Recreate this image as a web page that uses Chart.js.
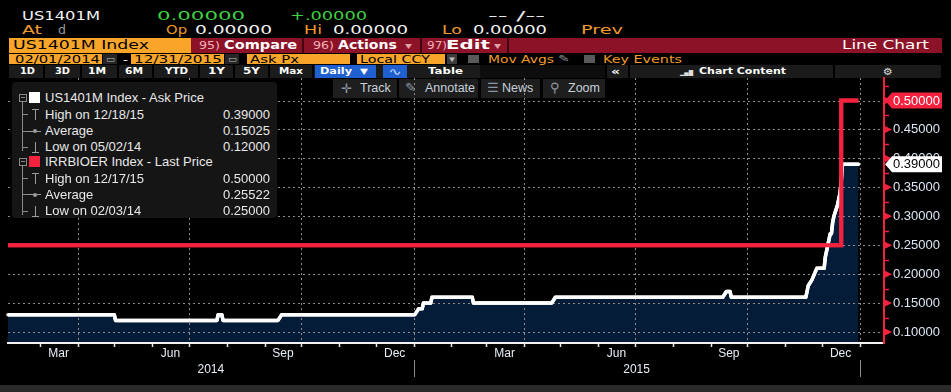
<!DOCTYPE html>
<html>
<head>
<meta charset="utf-8">
<script src="https://cdn.jsdelivr.net/npm/chart.js@4.4.1/dist/chart.umd.min.js"></script>
<style>
html, body { margin: 0; padding: 0; background: #000; width: 951px; height: 392px; overflow: hidden; }
body { position: relative; font-family: 'Liberation Sans', Arial, sans-serif; }
#chartWrap { position: absolute; left: 0; top: 0; width: 951px; height: 385px; z-index: 1; }
.t { position: absolute; white-space: nowrap; line-height: 1; transform-origin: 0 50%; font-family: 'DejaVu Sans', sans-serif; }
.b { position: absolute; }
.btn { position: absolute; top: 79px; height: 19px; background: #1e1e1e; z-index: 0; color: #c6d0dc; font-size: 12.5px; line-height: 19px; }
.btn span { position: absolute; }
#legendBox { position: absolute; left: 12px; top: 82px; width: 265px; height: 136px; background: #151515; border-radius: 4px; z-index: 2; }
.lg { position: absolute; z-index: 3; color: #e8e8e8; font-size: 13px; line-height: 1; white-space: nowrap; }
.lv { position: absolute; z-index: 3; color: #e8e8e8; font-size: 13px; line-height: 1; right: 681px; }
.tr { position: absolute; z-index: 3; background: #8a8a8a; }
#footer { position: absolute; left: 0; top: 385px; width: 951px; height: 7px; background: #2a2a2a; }
</style>
</head>
<body>
<div id="header"></div>

<div class="btn" style="left:333px;width:64px;"><span style="left:8px;color:#8a96a4;font-size:13px;">✛</span><span style="left:27px;">Track</span></div>
<div class="btn" style="left:399px;width:79px;"><span style="left:6px;color:#8a96a4;">✎</span><span style="left:26px;">Annotate</span></div>
<div class="btn" style="left:481px;width:59px;"><span style="left:6px;color:#8a96a4;">☰</span><span style="left:21px;">News</span></div>
<div class="btn" style="left:543px;width:62px;"><span style="left:7px;color:#8a96a4;">⚲</span><span style="left:25px;">Zoom</span></div>

<div id="chartWrap"><canvas id="myChart" width="951" height="385"></canvas></div>

<div id="legendBox"></div>
<div id="legend"></div>
<div id="footer"></div>

<script>
// --- data ---
const askDates = ['2014-02-03', '2014-05-01', '2014-05-02', '2014-07-24', '2014-07-25', '2014-07-28', '2014-07-29',
    '2014-09-12', '2014-09-15', '2015-01-02', '2015-01-05', '2015-01-08', '2015-01-09', '2015-01-15', '2015-01-16',
    '2015-02-18', '2015-02-19', '2015-04-24', '2015-04-27', '2015-09-11', '2015-09-14', '2015-09-17', '2015-09-18',
    '2015-11-18', '2015-11-19', '2015-11-20', '2015-11-23', '2015-11-25', '2015-11-27', '2015-12-03', '2015-12-04',
    '2015-12-07', '2015-12-08', '2015-12-09', '2015-12-10', '2015-12-11', '2015-12-14', '2015-12-15', '2015-12-16',
    '2015-12-17', '2015-12-18', '2015-12-31'];
const askValues = [0.13, 0.13, 0.12, 0.12, 0.13, 0.13, 0.12,
    0.12, 0.13, 0.13, 0.14, 0.14, 0.15, 0.15, 0.16,
    0.16, 0.15, 0.15, 0.16, 0.16, 0.17, 0.17, 0.16,
    0.16, 0.17, 0.18, 0.19, 0.20, 0.21, 0.21, 0.23,
    0.26, 0.27, 0.27, 0.29, 0.30, 0.32, 0.33, 0.34,
    0.36, 0.39, 0.39];

const rateDates = ['2014-02-03', '2015-12-17', '2015-12-31'];
const rateValues = [0.25, 0.50, 0.50];

const monthStarts = ['2014-03-01', '2014-04-01', '2014-05-01', '2014-06-01', '2014-07-01', '2014-08-01',
    '2014-09-01', '2014-10-01', '2014-11-01', '2014-12-01', '2015-01-01', '2015-02-01', '2015-03-01',
    '2015-04-01', '2015-05-01', '2015-06-01', '2015-07-01', '2015-08-01', '2015-09-01', '2015-10-01',
    '2015-11-01', '2015-12-01', '2016-01-01'];
const monthLabelMonths = ['2014-03', '2014-06', '2014-09', '2014-12', '2015-03', '2015-06', '2015-09', '2015-12'];
const monthLabels = ['Mar', 'Jun', 'Sep', 'Dec', 'Mar', 'Jun', 'Sep', 'Dec'];
const yearLabels = ['2014', '2015'];
const yearSpans = [['2014-02-03', '2015-01-01'], ['2015-01-01', '2016-01-01']];
const yearBreaks = ['2015-01-01', '2016-01-01'];

const yMajorTicks = [0.10, 0.15, 0.20, 0.25, 0.30, 0.35, 0.40, 0.45, 0.50];
const yMinorTicks = [0.125, 0.175, 0.225, 0.275, 0.325, 0.375, 0.425, 0.475, 0.525];

const xStart = '2014-02-03';
const xEnd = '2016-01-21';
const yMin = 0.081;
const yMax = 0.539;

const RED = '#f5223f';
const GRID = '#8c8c8c';

// --- helpers ---
const BASE = Date.UTC(2014, 1, 1);
function dayNum(s) {
    const p = s.split('-');
    return Math.round((Date.UTC(+p[0], +p[1] - 1, +(p[2] || 1)) - BASE) / 864e5);
}
function nextMonth(ym) {
    let [y, m] = ym.split('-').map(Number);
    m++; if (m > 12) { m = 1; y++; }
    return y + '-' + String(m).padStart(2, '0');
}
const quarterDays = monthStarts.filter(d => ['01', '04', '07', '10'].includes(d.slice(5, 7))).map(dayNum);
const monthLabelValues = monthLabelMonths.map(m => (dayNum(m + '-01') + dayNum(nextMonth(m) + '-01')) / 2);
const yearLabelValues = yearSpans.map(s => (dayNum(s[0]) + dayNum(s[1])) / 2);
const isMajorY = v => yMajorTicks.some(m => Math.abs(m - v) < 1e-6);
const isQuarter = v => quarterDays.some(q => Math.abs(q - v) < 1e-6);

// --- header (bloomberg bars) ---
const header = document.getElementById('header');
const headerBoxes = [
    [9, 38, 182, 15, '#f9a52a'], [191, 38, 751, 15, '#8c1327'],
    [302, 38, 2, 15, '#3e060e'], [420, 38, 2, 15, '#3e060e'], [507, 38, 2, 15, '#3e060e'],
    [9, 54, 93, 10, '#f9a52a'], [103, 54, 14, 10, '#262626'], [131, 54, 93, 10, '#f9a52a'], [225, 54, 14, 10, '#262626'],
    [247, 54, 103, 10, '#f9a52a'], [357, 54, 88, 10, '#f9a52a'], [447, 54, 10, 10, '#3c3c3c'],
    [468, 55, 11, 8, '#5a5a5a'], [584, 55, 11, 8, '#5a5a5a'],
    [9, 65, 932, 13, '#1b1b1b'],
    [43, 65, 2, 13, '#000'], [80, 65, 2, 13, '#000'], [117, 65, 2, 13, '#000'], [152, 65, 2, 13, '#000'],
    [198, 65, 2, 13, '#000'], [233, 65, 2, 13, '#000'], [268, 65, 2, 13, '#000'], [312, 65, 2, 13, '#000'],
    [315, 65, 61, 13, '#1f5fcf'], [383, 65, 24, 13, '#1f5fcf'],
    [480, 65, 125, 13, '#0d0d0d'], [605, 65, 2, 13, '#000'], [628, 65, 2, 13, '#000'], [833, 65, 2, 13, '#000']
];
headerBoxes.forEach(([x, y, w, h, c]) => {
    const d = document.createElement('div');
    d.className = 'b';
    d.style.cssText = `left:${x}px;top:${y}px;width:${w}px;height:${h}px;background:${c};`;
    header.appendChild(d);
});
// x, centre y, width, text, colour, size, bold
const headerTexts = [
    [22, 16, 78, 'US1401M', '#f2f2f2', 12, 0], [157, 16, 88, '0.00000', '#3fd23f', 12, 0],
    [290, 16, 77, '+.00000', '#3fd23f', 12, 0], [488, 16, 57, '-- /--', '#e8e8e8', 12, 0],
    [22, 30, 20, 'At', '#f09a2b', 12, 0], [58, 30, 8, 'd', '#9a9a9a', 12, 0],
    [166, 30, 21, 'Op', '#f09a2b', 12, 0], [195, 30, 77, '0.00000', '#f2f2f2', 12, 0],
    [304, 30, 18, 'Hi', '#f09a2b', 12, 0], [333, 30, 75, '0.00000', '#f2f2f2', 12, 0],
    [442, 30, 20, 'Lo', '#f09a2b', 12, 0], [473, 30, 74, '0.00000', '#f2f2f2', 12, 0],
    [581, 30, 42, 'Prev', '#f09a2b', 12, 0],
    [13, 45.5, 136, 'US1401M Index', '#000', 11.5, 0],
    [199, 45.5, 21, '95)', '#f3b0b8', 11, 0], [224, 45.5, 73, 'Compare', '#fff', 11.5, 1],
    [313, 45.5, 21, '96)', '#f3b0b8', 11, 0], [338, 45.5, 59, 'Actions', '#fff', 11.5, 1], [405, 45.5, 7, '▾', '#e0a0a8', 10, 0],
    [427, 45.5, 20, '97)', '#f3b0b8', 11, 0], [446, 45.5, 44, 'Edit', '#fff', 11.5, 1], [494, 45.5, 7, '▾', '#e0a0a8', 10, 0],
    [842, 45.5, 87, 'Line Chart', '#fff', 11.5, 0],
    [15, 59, 85, '02/01/2014', '#000', 10.5, 0], [106, 59, 9, '▭', '#bbb', 9, 0], [123, 59, 5, '-', '#fff', 10.5, 0],
    [134, 59, 88, '12/31/2015', '#000', 10.5, 0], [228, 59, 9, '▭', '#bbb', 9, 0],
    [250, 59, 49, 'Ask Px', '#000', 10.5, 0], [360, 59, 70, 'Local CCY', '#000', 10.5, 0], [449, 59, 6, '▾', '#bbb', 9, 0],
    [488, 59, 66, 'Mov Avgs', '#f09a2b', 10.5, 0], [558, 59, 12, '✎', '#888', 10, 0],
    [603, 59, 79, 'Key Events', '#f09a2b', 10.5, 0],
    [20, 71.5, 15, '1D', '#fff', 9, 1], [55, 71.5, 15, '3D', '#fff', 9, 1], [88, 71.5, 18, '1M', '#fff', 9, 1],
    [125, 71.5, 18, '6M', '#fff', 9, 1], [165, 71.5, 23, 'YTD', '#fff', 9, 1], [208, 71.5, 17, '1Y', '#fff', 9, 1],
    [243, 71.5, 17, '5Y', '#fff', 9, 1], [279, 71.5, 24, 'Max', '#fff', 9, 1],
    [320, 71.5, 32, 'Daily', '#fff', 9, 1], [360, 71.5, 8, '▼', '#fff', 8, 0], [388, 71.5, 14, '∿', '#bcd4ff', 10, 0],
    [428, 71.5, 35, 'Table', '#fff', 9, 1], [611, 71.5, 9, '«', '#fff', 10, 1],
    [680, 71.5, 13, '▁▃▅', '#ddd', 8, 0], [699, 71.5, 87, 'Chart Content', '#fff', 9, 1], [883, 71.5, 10, '⚙', '#ddd', 10, 0]
];
const scaled = [];
headerTexts.forEach(([x, cy, w, txt, c, s, b]) => {
    const d = document.createElement('div');
    d.className = 't';
    d.textContent = txt;
    d.style.cssText = `left:${x}px;top:${cy - s / 2}px;font-size:${s}px;color:${c};font-weight:${b ? 'bold' : 'normal'};`;
    header.appendChild(d);
    scaled.push([d, w]);
});
scaled.forEach(([d, w]) => {
    const real = d.getBoundingClientRect().width;
    if (real > 0) d.style.transform = `scaleX(${w / real})`;
});

// --- legend panel ---
const legend = document.getElementById('legend');
const legendRows = [
    { y: 97.5, text: 'US1401M Index - Ask Price', swatch: '#ffffff' },
    { y: 114, text: 'High on 12/18/15', value: '0.39000', icon: 'high' },
    { y: 130.5, text: 'Average', value: '0.15025', icon: 'avg' },
    { y: 146.5, text: 'Low on 05/02/14', value: '0.12000', icon: 'low' },
    { y: 161.5, text: 'IRRBIOER Index - Last Price', swatch: RED },
    { y: 178, text: 'High on 12/17/15', value: '0.50000', icon: 'high' },
    { y: 194, text: 'Average', value: '0.25522', icon: 'avg' },
    { y: 210.5, text: 'Low on 02/03/14', value: '0.25000', icon: 'low' }
];
function addDiv(cls, css, txt) {
    const d = document.createElement('div');
    d.className = cls;
    d.style.cssText = css;
    if (txt) d.textContent = txt;
    legend.appendChild(d);
    return d;
}
legendRows.forEach(r => {
    addDiv('lg', `left:45px;top:${r.y - 6.5}px;`, r.text);
    if (r.value) addDiv('lv', `top:${r.y - 6.5}px;`, r.value);
    if (r.swatch) {
        addDiv('tr', `left:29px;top:${r.y - 5.5}px;width:11px;height:11px;background:${r.swatch};`);
        addDiv('tr', `left:19px;top:${r.y - 4}px;width:6px;height:6px;background:none;border:1px solid #8a8a8a;`);
        addDiv('tr', `left:21px;top:${r.y - 0.5}px;width:4px;height:1px;`);
        addDiv('tr', `left:22px;top:${r.y + 4}px;width:1px;height:49px;`);
    } else {
        addDiv('tr', `left:22px;top:${r.y}px;width:6px;height:1px;`);
        if (r.icon === 'high') {
            addDiv('tr', `left:32px;top:${r.y - 5}px;width:7px;height:1px;background:#9a9a9a;`);
            addDiv('tr', `left:35px;top:${r.y - 5}px;width:1px;height:11px;background:#9a9a9a;`);
        } else if (r.icon === 'low') {
            addDiv('tr', `left:32px;top:${r.y + 5}px;width:7px;height:1px;background:#9a9a9a;`);
            addDiv('tr', `left:35px;top:${r.y - 5}px;width:1px;height:11px;background:#9a9a9a;`);
        } else {
            addDiv('tr', `left:28px;top:${r.y}px;width:13px;height:1px;background:#9a9a9a;`);
            addDiv('tr', `left:33px;top:${r.y - 1.5}px;width:4px;height:4px;border-radius:2px;background:#9a9a9a;`);
        }
    }
});

// --- chart ---
function strokeLine(ctx, x1, y1, x2, y2) {
    ctx.beginPath();
    ctx.moveTo(x1, y1);
    ctx.lineTo(x2, y2);
    ctx.stroke();
}

function valueTag(ctx, scale, v, bg, fg) {
    const py = scale.getPixelForValue(v);
    const x0 = scale.left + 1;
    ctx.fillStyle = bg;
    ctx.beginPath();
    ctx.moveTo(x0, py);
    ctx.lineTo(x0 + 7, py - 8);
    ctx.lineTo(x0 + 57, py - 8);
    ctx.lineTo(x0 + 57, py + 8);
    ctx.lineTo(x0 + 7, py + 8);
    ctx.closePath();
    ctx.fill();
    ctx.fillStyle = fg;
    ctx.font = "13px 'Liberation Sans', Arial, sans-serif";
    ctx.textAlign = 'left';
    ctx.textBaseline = 'middle';
    ctx.fillText(v.toFixed(5), scale.left + 9, py + 0.5);
}

// dashed grid + tick marks from the scales' own ticks, laid over the area fill,
// then the two series lines are stroked again on top of the grid
const gridLayer = {
    id: 'gridLayer',
    afterDatasetsDraw(chart) {
        const { ctx, chartArea: a } = chart;
        const { x, y } = chart.scales;
        ctx.save();
        ctx.lineWidth = 1;
        ctx.strokeStyle = GRID;
        ctx.setLineDash([2, 3]);
        x.ticks.forEach(t => {
            if (!isQuarter(t.value)) return;
            const px = Math.round(x.getPixelForValue(t.value)) + 0.5;
            strokeLine(ctx, px, a.top, px, a.bottom);
        });
        y.ticks.forEach(t => {
            if (!isMajorY(t.value)) return;
            const py = Math.round(y.getPixelForValue(t.value)) + 0.5;
            strokeLine(ctx, a.left, py, a.right, py);
        });
        ctx.setLineDash([]);
        ctx.lineWidth = 1.5;
        ctx.strokeStyle = '#e6e6e6';
        x.ticks.forEach(t => {
            const px = Math.round(x.getPixelForValue(t.value)) + 0.5;
            strokeLine(ctx, px, a.bottom, px, a.bottom + 4);
        });
        ctx.strokeStyle = RED;
        y.ticks.forEach(t => {
            if (isMajorY(t.value)) return;
            const py = Math.round(y.getPixelForValue(t.value)) + 0.5;
            strokeLine(ctx, a.right, py, a.right + 5, py);
        });
        ctx.restore();

        ctx.save();
        ctx.beginPath();
        ctx.rect(a.left - 2, a.top - 2, a.right - a.left + 4, a.bottom - a.top + 4);
        ctx.clip();
        [1, 0].forEach(i => {
            const el = chart.getDatasetMeta(i).dataset;
            if (el) el.draw(ctx, a);
        });
        ctx.restore();
    }
};

// month / year captions under the time axis, arrow markers and last-value tags on the price axis
const axisExtras = {
    id: 'axisExtras',
    afterDraw(chart) {
        const { ctx } = chart;
        const { x, y } = chart.scales;
        ctx.save();
        ctx.fillStyle = '#e8eef6';
        ctx.font = "12px 'Liberation Sans', Arial, sans-serif";
        ctx.textAlign = 'center';
        ctx.textBaseline = 'middle';
        monthLabelValues.forEach((v, i) => ctx.fillText(monthLabels[i], x.getPixelForValue(v), x.bottom + 7));
        yearLabelValues.forEach((v, i) => ctx.fillText(yearLabels[i], x.getPixelForValue(v), x.bottom + 23));

        ctx.strokeStyle = '#8c8c8c';
        ctx.lineWidth = 1;
        yearBreaks.forEach(d => {
            const px = Math.round(x.getPixelForValue(dayNum(d))) + 0.5;
            strokeLine(ctx, px, x.bottom + 13, px, x.bottom + 30);
        });

        ctx.fillStyle = RED;
        yMajorTicks.forEach(v => {
            const py = y.getPixelForValue(v);
            ctx.beginPath();
            ctx.moveTo(y.left, py - 4);
            ctx.lineTo(y.left + 8, py);
            ctx.lineTo(y.left, py + 4);
            ctx.closePath();
            ctx.fill();
        });

        valueTag(ctx, y, rateValues[rateValues.length - 1], RED, '#ffffff');
        valueTag(ctx, y, askValues[askValues.length - 1], '#ffffff', '#000000');
        ctx.restore();
    }
};

const ctx = document.getElementById('myChart');
new Chart(ctx, {
    type: 'line',
    data: {
        datasets: [{
            label: 'IRRBIOER Index - Last Price',
            data: rateDates.map((d, i) => ({ x: dayNum(d), y: rateValues[i] })),
            borderColor: RED,
            borderWidth: 4,
            stepped: true,
            pointRadius: 0,
            fill: false
        }, {
            label: 'US1401M Index - Ask Price',
            data: askDates.map((d, i) => ({ x: dayNum(d), y: askValues[i] })),
            borderColor: '#ffffff',
            borderWidth: 3.5,
            borderJoinStyle: 'round',
            borderCapStyle: 'round',
            backgroundColor: '#041c38',
            fill: 'start',
            pointRadius: 0,
            tension: 0
        }]
    },
    options: {
        responsive: false,
        animation: false,
        layout: { padding: { top: 78, left: 8, right: 0, bottom: 38 } },
        plugins: { legend: { display: false }, tooltip: { enabled: false } },
        scales: {
            x: {
                type: 'linear',
                position: 'bottom',
                min: dayNum(xStart),
                max: dayNum(xEnd),
                afterBuildTicks: s => { s.ticks = monthStarts.map(d => ({ value: dayNum(d) })); },
                afterFit: s => { s.height = 4; },
                ticks: { display: false },
                grid: { display: false, tickLength: 4 },
                border: { color: '#f2f2f2', width: 2, z: 1 }
            },
            y: {
                type: 'linear',
                position: 'right',
                min: yMin,
                max: yMax,
                afterBuildTicks: s => {
                    s.ticks = yMajorTicks.concat(yMinorTicks).sort((a, b) => a - b).map(v => ({ value: v }));
                },
                afterFit: s => { s.width = 67; },
                ticks: {
                    autoSkip: false,
                    padding: 4,
                    color: '#dce6f4',
                    font: { size: 13, family: "'Liberation Sans', Arial, sans-serif" },
                    callback: v => isMajorY(v) ? v.toFixed(5) : ''
                },
                grid: { display: false, tickLength: 5 },
                border: { color: RED, width: 2, z: 1 }
            }
        }
    },
    plugins: [gridLayer, axisExtras]
});
</script>
</body>
</html>
